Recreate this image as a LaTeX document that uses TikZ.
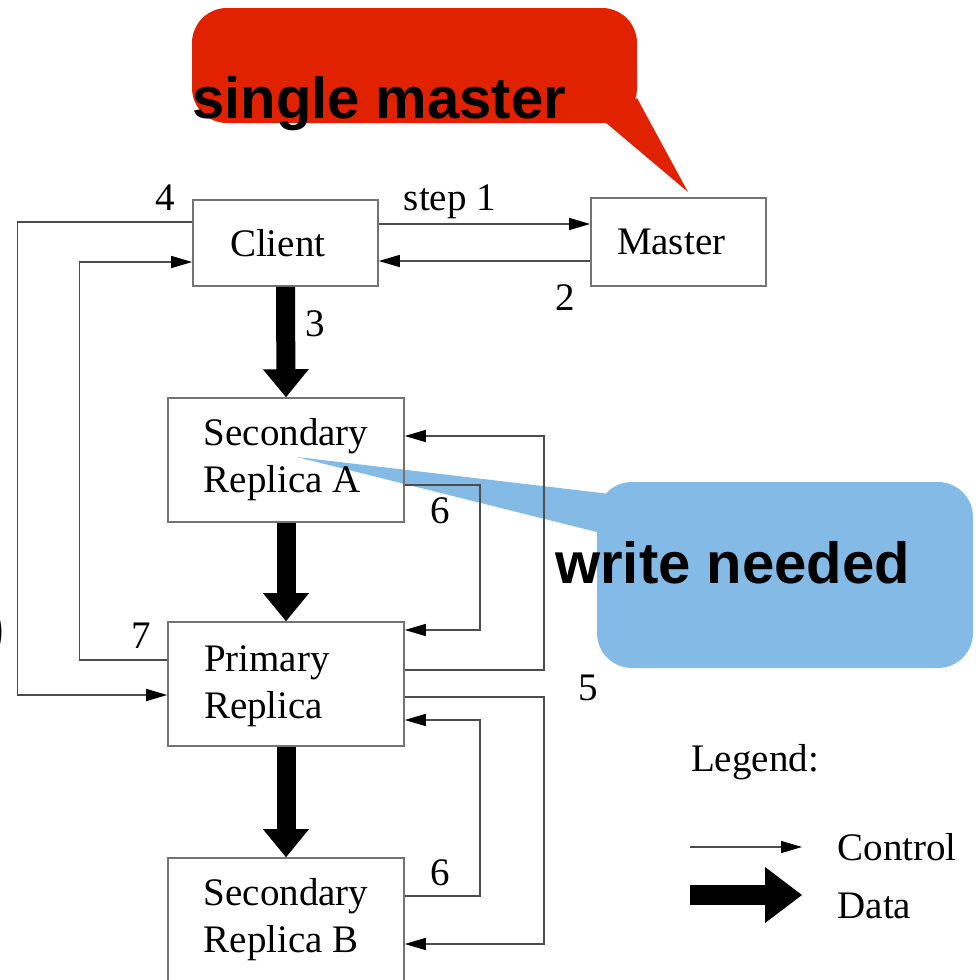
\documentclass[tikz,border=0pt]{standalone}
\usepackage{fontspec}
\setmainfont{Liberation Serif}
\newfontfamily\notefont{Liberation Sans}
\usetikzlibrary{arrows.meta,positioning}
\definecolor{notered}{RGB}{224,34,0}
\definecolor{noteblue}{RGB}{132,186,230}

\begin{document}
\begin{tikzpicture}[x=1pt, y=-1pt,
    every node/.append style={align=left, font=\fontsize{39}{47}\selectfont},
    box/.style={draw=black!55, line width=1.6pt, inner sep=0pt},
    replica/.style={box, minimum width=236pt, minimum height=124pt},
    ctrl/.style={draw=black!70, line width=1.4pt, -{Triangle[length=21pt, width=12pt, color=black]}},
    data/.style={line width=19pt, -{Triangle[length=28pt, width=46pt, line width=0pt]}},
    legdata/.style={line width=20pt, -{Triangle[length=37pt, width=56pt, line width=0pt]}},
    note/.style={font=\notefont\bfseries\fontsize{58}{64}\selectfont, inner sep=0pt}]
   \useasboundingbox (0,0) rectangle (975,980);
   \clip (0,0) rectangle (975,980);

   % callout shapes
   \fill[noteblue, rounded corners=35pt] (597,482) rectangle (973,668);
   \fill[noteblue] (297,457) -- (610,494) -- (597,532) -- cycle;
   \fill[notered, rounded corners=35pt] (192,8) rectangle (637,123);
   \fill[notered] (605,122) -- (688,192) -- (637,98) -- cycle;

   % boxes
   \node [box, minimum width=185pt, minimum height=86pt, text width=111pt] (client) at (285.5,243) {\raisebox{-3pt}{Client}};
   \node [box, minimum width=175pt, minimum height=88pt, text width=123pt] (master) at (678.5,242) {Master};
   \node [replica, text depth=9pt] (secA) at (286,460) {Secondary\\Replica A};
   \node [replica, text depth=3pt] (primary) at (286,684) {\makebox[164pt][l]{Primary}\\Replica};
   \node [replica] (secB) at (286,920) {Secondary\\Replica B};

   % data flow
   \draw[data] (client.south) -- (secA.north);
   \draw[data] (secA.south) -- (primary.north);
   \draw[data] (primary.south) -- (secB.north);

   % control flow
   \draw[ctrl] ([yshift=19pt]client.east) -- ([yshift=19pt]client.east -| master.west);
   \draw[ctrl] ([yshift=-19pt]master.west) -- ([yshift=-19pt]master.west -| client.east);
   \draw[ctrl] ([yshift=21pt]client.west) -- ++(-175pt,0) |- ([yshift=-11pt]primary.west);
   \draw[ctrl] ([yshift=24pt]primary.west) -- ++(-88pt,0) |- ([yshift=-19pt]client.west);
   \draw[ctrl] ([yshift=14pt]primary.east) -- ++(139pt,0) |- ([yshift=24pt]secA.east);
   \draw[ctrl] ([yshift=-13pt]primary.east) -- ++(139pt,0) |- ([yshift=-24pt]secB.east);
   \draw[ctrl] ([yshift=-25pt]secA.east) -- ++(75pt,0) |- ([yshift=54pt]primary.east);
   \draw[ctrl] ([yshift=24pt]secB.east) -- ++(75pt,0) |- ([yshift=-36pt]primary.east);

   % step labels
   \node (lstep) at (450,202) {step 1};
   \node (ltwo) at (565,298) {2};
   \node (lthree) at (315,324) {3};
   \node (lfour) at (165,198) {4};
   \node (lseven) at (141,636) {7};
   \node (lfive) at (588,688) {5};
   \node (lsixA) at (440,511) {6};
   \node (lsixB) at (440,873) {6};

   % legend
   \node (legend) at (755,762) {Legend:};
   \coordinate (c0) at (690,847);
   \coordinate (c1) at (802,847);
   \coordinate (d0) at (690,895);
   \coordinate (d1) at (802,895);
   \draw[ctrl] (c0) -- (c1);
   \draw[legdata] (d0) -- (d1);
   \node [anchor=west] (lctrl) at (834,847) {Control};
   \node [anchor=west] (ldata) at (834,906) {Data};

   % callout texts
   \node [note, anchor=base west] (single) at (192,118) {single master};
   \node [note, anchor=base west] (write) at (555,583) {write needed};
   \node [note, anchor=east] (paren) at (5,632) {)};
\end{tikzpicture}
\end{document}
